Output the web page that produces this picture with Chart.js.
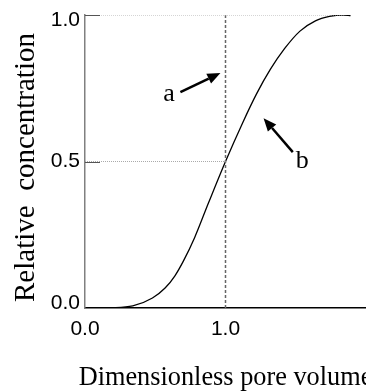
<!DOCTYPE html>
<html>
<head>
<meta charset="utf-8">
<script src="https://cdn.jsdelivr.net/npm/chart.js@4.4.0/dist/chart.umd.min.js"></script>
<style>
  html, body { margin: 0; padding: 0; background: #fff; }
  #chart { display: block; }
</style>
</head>
<body>
<canvas id="chart" width="366" height="391"></canvas>
<script>
// breakthrough curve
var poreVolume    = [0.16, 0.34, 0.48, 0.57, 0.64, 0.70, 0.78, 0.88, 1.0, 1.12, 1.22, 1.32, 1.42, 1.53, 1.64, 1.74, 1.84, 1.89];
var concentration = [0.0, 0.007, 0.034, 0.068, 0.11, 0.16, 0.24, 0.36, 0.5, 0.63, 0.73, 0.815, 0.885, 0.945, 0.98, 0.995, 1.0, 0.998];

var xTicks = [0, 1];
var yTicks = [0, 0.5, 1];

var xTitle = 'Dimensionless pore volume';
var yTitle = 'Relative  concentration';

// reference lines (x, y)
var vLineX = [1.0, 1.0],  vLineY = [0, 1];
var top1X  = [0, 1.84],   top1Y  = [1, 1];
var half1X = [0, 1.0],    half1Y = [0.5, 0.5];

// annotations: label position and arrow tail -> tip, in data units
var labelA = ['a', 0.557, 0.706];
var arrowA = [0.679, 0.737, 0.964, 0.802];
var labelB = ['b', 1.5, 0.478];
var arrowB = [1.479, 0.532, 1.271, 0.648];

function pts(xs, ys) {
	var out = [];
	for (var i in xs) out.push({x: xs[i], y: ys[i]});
	return out;
}

var annotations = {
	id: 'annotations',
	afterDatasetsDraw: function(chart) {
		var ctx = chart.ctx, sx = chart.scales.x, sy = chart.scales.y;
		var area = chart.chartArea;
		ctx.save();
		// short inward tick marks on the y axis
		ctx.strokeStyle = '#555';
		ctx.lineWidth = 1;
		yTicks.forEach(function(v) {
			if (v === 0) return;
			var y = Math.round(sy.getPixelForValue(v)) + 0.5;
			ctx.beginPath();
			ctx.moveTo(area.left, y);
			ctx.lineTo(area.left + 15, y);
			ctx.stroke();
		});
		// arrows
		[arrowA, arrowB].forEach(function(a) {
			var x1 = sx.getPixelForValue(a[0]), y1 = sy.getPixelForValue(a[1]);
			var x2 = sx.getPixelForValue(a[2]), y2 = sy.getPixelForValue(a[3]);
			var ang = Math.atan2(y2 - y1, x2 - x1);
			var hl = 13, hw = 5.5;
			var bx = x2 - hl * Math.cos(ang), by = y2 - hl * Math.sin(ang);
			ctx.strokeStyle = '#000';
			ctx.fillStyle = '#000';
			ctx.lineWidth = 2.5;
			ctx.beginPath();
			ctx.moveTo(x1, y1);
			ctx.lineTo(bx, by);
			ctx.stroke();
			ctx.beginPath();
			ctx.moveTo(x2, y2);
			ctx.lineTo(bx + hw * Math.sin(ang), by - hw * Math.cos(ang));
			ctx.lineTo(bx - hw * Math.sin(ang), by + hw * Math.cos(ang));
			ctx.closePath();
			ctx.fill();
		});
		// letters
		ctx.fillStyle = '#000';
		ctx.font = '26px "Liberation Serif", "Times New Roman", serif';
		ctx.textBaseline = 'alphabetic';
		ctx.textAlign = 'left';
		[labelA, labelB].forEach(function(l) {
			ctx.fillText(l[0], sx.getPixelForValue(l[1]), sy.getPixelForValue(l[2]));
		});
		ctx.restore();
	},
	afterDraw: function(chart) {
		var ctx = chart.ctx, area = chart.chartArea, sy = chart.scales.y;
		ctx.save();
		ctx.fillStyle = '#000';
		// y tick labels, end ones nudged inward like the original
		ctx.font = '21px "Liberation Sans", Arial, sans-serif';
		ctx.textAlign = 'right';
		ctx.textBaseline = 'middle';
		yTicks.forEach(function(v) {
			var y = sy.getPixelForValue(v);
			if (v === sy.max) y += 5;
			if (v === sy.min) y -= 5;
			ctx.fillText(v.toFixed(1), area.left - 5, y);
		});
		// axis titles drawn here so the x title is not squeezed to the plot width
		ctx.textAlign = 'center';
		ctx.textBaseline = 'alphabetic';
		ctx.font = '26.3px "Liberation Serif", "Times New Roman", serif';
		ctx.fillText(xTitle, (area.left + area.right) / 2, area.bottom + 77);
		ctx.translate(26, (area.top + area.bottom) / 2 + 6);
		ctx.rotate(-Math.PI / 2);
		ctx.textBaseline = 'middle';
		ctx.font = '29px "Liberation Serif", "Times New Roman", serif';
		ctx.fillText(yTitle, 0, 0);
		ctx.restore();
	}
};

var ctx = document.getElementById('chart');

var chart = new Chart(ctx, {
	type: 'line',
	data: {
		datasets: [
			{
				data: pts(top1X, top1Y),
				borderColor: '#aaa',
				borderWidth: 1,
				borderDash: [1, 1],
				pointRadius: 0
			},
			{
				data: pts(half1X, half1Y),
				borderColor: '#aaa',
				borderWidth: 1,
				borderDash: [1, 1],
				pointRadius: 0
			},
			{
				data: pts(vLineX, vLineY),
				borderColor: '#666',
				borderWidth: 1.5,
				borderDash: [3, 2],
				pointRadius: 0
			},
			{
				data: pts(poreVolume, concentration),
				borderColor: '#000',
				borderWidth: 1.3,
				pointRadius: 0,
				cubicInterpolationMode: 'monotone'
			}
		]
	},
	options: {
		responsive: false,
		animation: false,
		layout: { padding: { top: 15, right: 0, left: 0, bottom: 0 } },
		plugins: {
			legend: { display: false },
			tooltip: { enabled: false }
		},
		scales: {
			x: {
				type: 'linear',
				min: 0,
				max: 2,
				afterBuildTicks: function(s) { s.ticks = xTicks.map(function(v) { return {value: v}; }); },
				afterFit: function(s) {
					s.height = 83;
					s.paddingLeft = 0;
					s.paddingRight = 0;
				},
				grid: { display: false, drawTicks: false },
				border: { display: true, color: '#000', width: 1.5 },
				ticks: {
					padding: 9,
					color: '#000',
					font: { family: '"Liberation Sans", Arial, sans-serif', size: 21 },
					maxRotation: 0,
					callback: function(v) { return Number(v).toFixed(1); }
				}
			},
			y: {
				type: 'linear',
				min: 0,
				max: 1,
				afterBuildTicks: function(s) { s.ticks = yTicks.map(function(v) { return {value: v}; }); },
				afterFit: function(s) {
					s.width = 85;
					s.paddingTop = 0;
					s.paddingBottom = 0;
				},
				grid: { display: false, drawTicks: false },
				border: { display: true, color: '#808080', width: 1.5 },
				ticks: { display: false }
			}
		}
	},
	plugins: [annotations]
});
</script>
</body>
</html>
